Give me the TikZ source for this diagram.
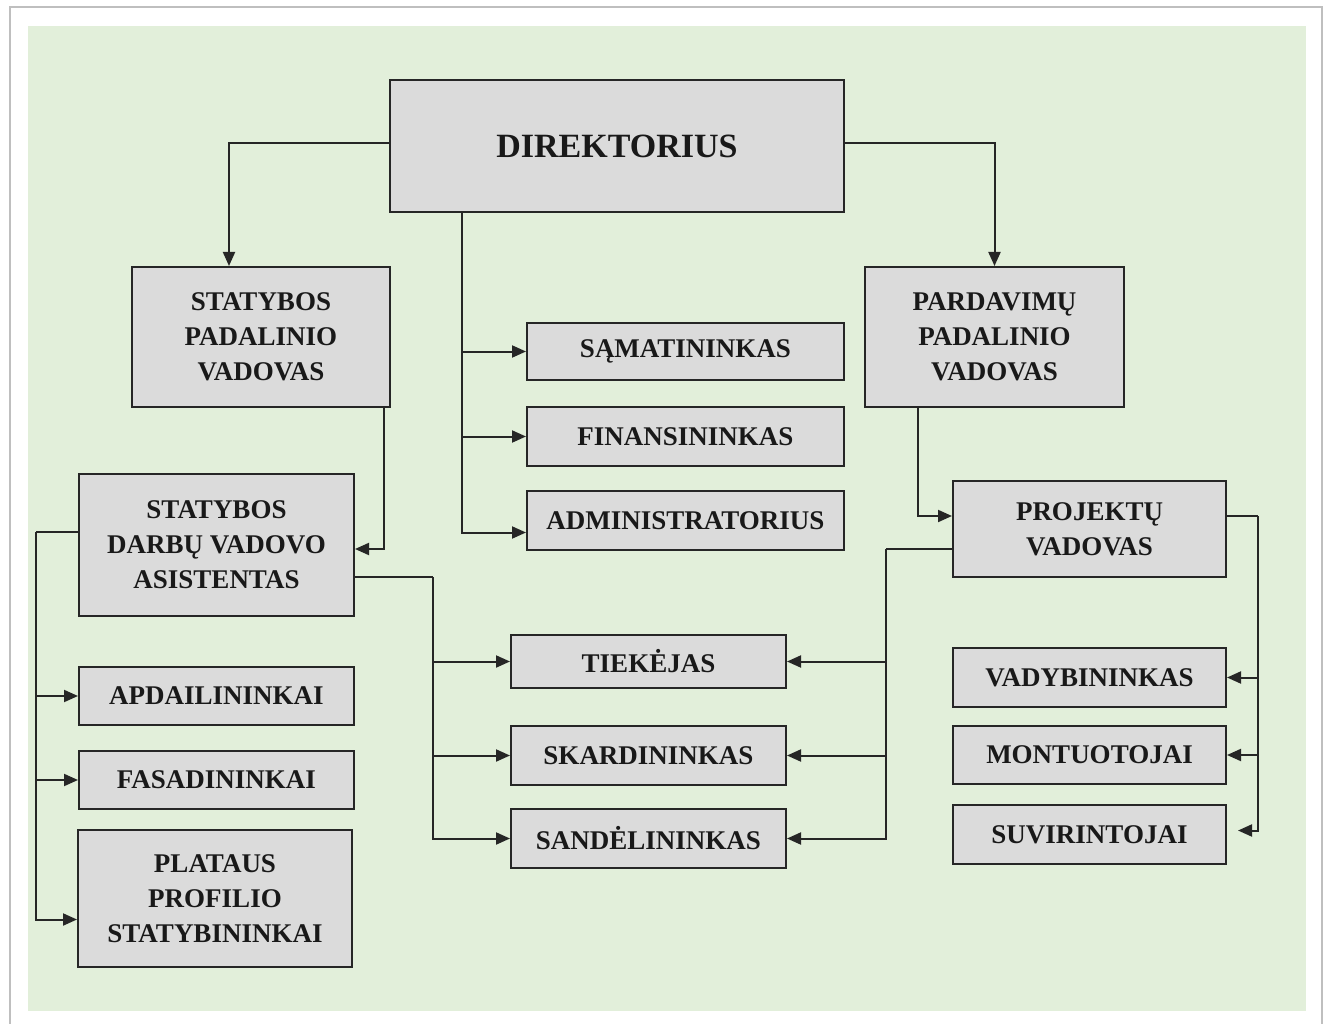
\documentclass[tikz,border=0pt]{standalone}
\usepackage{fontspec}
\setmainfont{Liberation Serif}
\usetikzlibrary{arrows.meta}

\definecolor{bggreen}{HTML}{E2EFDA}
\definecolor{boxgray}{HTML}{DBDBDB}
\definecolor{linedark}{HTML}{262626}

\tikzset{
  orgbox/.style={draw=linedark, line width=2pt, fill=boxgray, text=black!90,
    align=center, inner sep=2pt, font=\bfseries\fontsize{27}{35}\selectfont},
  link/.style={draw=linedark, line width=2pt},
  linkarrow/.style={link, -{Triangle[length=14pt,width=12pt]}}
}

\begin{document}
\begin{tikzpicture}[x=1pt, y=-1pt]
    \clip (0,0) rectangle (1330,1024);
    \useasboundingbox (0,0) rectangle (1330,1024);
    \fill[white] (0,0) rectangle (1330,1024);
    \draw[black!25, line width=2.5pt] (10,7) rectangle (1322,1040);
    \fill[bggreen] (28,26) rectangle (1306,1011);

    \node[orgbox, minimum width=454pt, minimum height=132pt, font=\bfseries\fontsize{34}{40}\selectfont] (dir) at (617,146) {DIREKTORIUS};

    \node[orgbox, minimum width=258pt, minimum height=140pt] (spv) at (261,337) {STATYBOS\\PADALINIO\\VADOVAS};
    \node[orgbox, minimum width=259pt, minimum height=140pt] (ppv) at (994.5,337) {PARDAVIMŲ\\PADALINIO\\VADOVAS};

    \node[orgbox, minimum width=317pt, minimum height=57pt] (sam) at (685.5,351.5) {SĄMATININKAS};
    \node[orgbox, minimum width=317pt, minimum height=59pt] (fin) at (685.5,436.5) {FINANSININKAS};
    \node[orgbox, minimum width=317pt, minimum height=59pt] (adm) at (685.5,520.5) {ADMINISTRATORIUS};

    \node[orgbox, minimum width=275pt, minimum height=142pt] (sdva) at (216.5,545) {STATYBOS\\DARBŲ VADOVO\\ASISTENTAS};
    \node[orgbox, minimum width=275pt, minimum height=58pt] (apd) at (216.5,696) {APDAILININKAI};
    \node[orgbox, minimum width=275pt, minimum height=58pt] (fas) at (216.5,780) {FASADININKAI};
    \node[orgbox, minimum width=274pt, minimum height=137pt] (pps) at (215,898.5) {PLATAUS\\PROFILIO\\STATYBININKAI};

    \node[orgbox, minimum width=275pt, minimum height=53pt] (tiek) at (648.5,661.5) {TIEKĖJAS};
    \node[orgbox, minimum width=275pt, minimum height=59pt] (skard) at (648.5,755.5) {SKARDININKAS};
    \node[orgbox, minimum width=275pt, minimum height=59pt] (sand) at (648.5,838.5) {SANDĖLININKAS};

    \node[orgbox, minimum width=273pt, minimum height=96pt] (proj) at (1089.5,529) {PROJEKTŲ\\VADOVAS};
    \node[orgbox, minimum width=273pt, minimum height=59pt] (vad) at (1089.5,677.5) {VADYBININKAS};
    \node[orgbox, minimum width=273pt, minimum height=58pt] (mon) at (1089.5,755) {MONTUOTOJAI};
    \node[orgbox, minimum width=273pt, minimum height=59pt] (suv) at (1089.5,834.5) {SUVIRINTOJAI};

    % direktorius
    \draw[linkarrow] ([yshift=3pt]dir.west) -| ([xshift=-32pt]spv.north);
    \draw[linkarrow] ([yshift=3pt]dir.east) -| (ppv.north);
    \coordinate (trunk) at ([xshift=-155pt]dir.south);
    \draw[linkarrow] (trunk) |- ([yshift=-12pt]adm.west);
    \draw[linkarrow] (trunk |- sam.west) -- (sam.west);
    \draw[linkarrow] (trunk |- fin.west) -- (fin.west);

    % statybos padalinys
    \draw[linkarrow] ([xshift=-7pt]spv.south east) |- ([yshift=-4pt]sdva.east);
    \coordinate (lbus) at ([xshift=-42pt,yshift=13pt]sdva.west);
    \draw[link] ([yshift=13pt]sdva.west) -- (lbus);
    \draw[linkarrow] (lbus) |- ([yshift=-21pt]pps.west);
    \draw[linkarrow] (lbus |- apd.west) -- (apd.west);
    \draw[linkarrow] (lbus |- fas.west) -- (fas.west);
    \coordinate (mbus) at ([xshift=78pt,yshift=-32pt]sdva.east);
    \draw[link] ([yshift=-32pt]sdva.east) -- (mbus);
    \draw[linkarrow] (mbus) |- (sand.west);
    \draw[linkarrow] (mbus |- tiek.west) -- (tiek.west);
    \draw[linkarrow] (mbus |- skard.west) -- (skard.west);

    % pardavimu padalinys
    \draw[linkarrow] ([xshift=-77pt]ppv.south) |- ([yshift=13pt]proj.west);
    \coordinate (rbus) at ([xshift=-66pt,yshift=-20pt]proj.west);
    \draw[link] ([yshift=-20pt]proj.west) -- (rbus);
    \draw[linkarrow] (rbus) |- (sand.east);
    \draw[linkarrow] (rbus |- tiek.east) -- (tiek.east);
    \draw[linkarrow] (rbus |- skard.east) -- (skard.east);
    \coordinate (ebus) at ([xshift=31pt,yshift=13pt]proj.east);
    \draw[link] ([yshift=13pt]proj.east) -- (ebus);
    \draw[linkarrow] (ebus) |- ([xshift=11pt,yshift=4pt]suv.east);
    \draw[linkarrow] (ebus |- vad.east) -- (vad.east);
    \draw[linkarrow] (ebus |- mon.east) -- (mon.east);
  \end{tikzpicture}
\end{document}
